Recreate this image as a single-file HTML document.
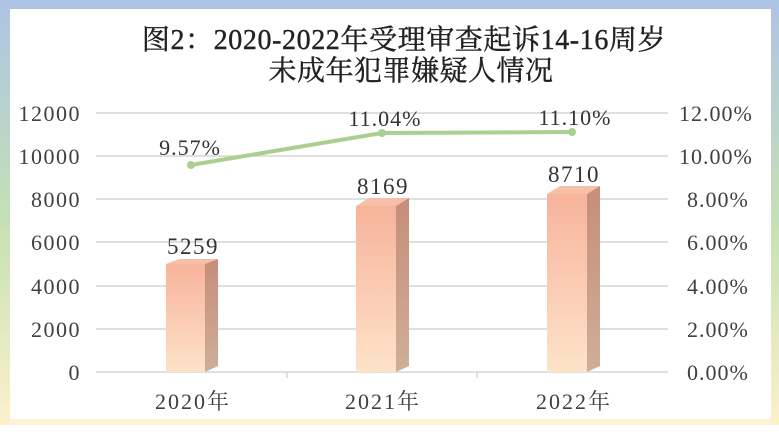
<!DOCTYPE html>
<html><head><meta charset="utf-8"><style>
body{margin:0;width:779px;height:438px;overflow:hidden;background:#fff}
</style></head><body>
<svg width="779" height="438" xmlns="http://www.w3.org/2000/svg" style="font-family:'Liberation Serif','Noto Serif CJK SC',serif">
<defs>
<linearGradient id="fr" x1="0" y1="0" x2="0" y2="1">
<stop offset="0" stop-color="#aec3e6"/><stop offset="0.5" stop-color="#c5e0b4"/><stop offset="1" stop-color="#fff2cc"/></linearGradient>
<linearGradient id="bf" x1="0" y1="0" x2="0" y2="1"><stop offset="0" stop-color="#f8b39c"/><stop offset="1" stop-color="#fde3c8"/></linearGradient>
<linearGradient id="bs" x1="0" y1="0" x2="0" y2="1"><stop offset="0" stop-color="#c58e79"/><stop offset="1" stop-color="#cfae98"/></linearGradient>
</defs>
<rect x="0" y="0" width="779" height="438" fill="url(#fr)"/>
<rect x="10" y="9" width="761" height="410" fill="#fff"/>
<rect x="10" y="419" width="761" height="6" fill="#fff2d6"/>
<rect x="0" y="425" width="779" height="13" fill="#fff"/>
<g font-size="28" text-anchor="middle" fill="#222" stroke="#222" stroke-width="0.4">
<text x="404" y="49" letter-spacing="0.6">图2：2020-2022年受理审查起诉14-16周岁</text>
<text x="411" y="80" letter-spacing="0.5">未成年犯罪嫌疑人情况</text>
</g>
<g stroke="#d6d6d6" stroke-width="1.5">
<line x1="96" x2="668" y1="113" y2="113"/><line x1="96" x2="668" y1="156" y2="156"/>
<line x1="96" x2="668" y1="199" y2="199"/><line x1="96" x2="668" y1="242" y2="242"/>
<line x1="96" x2="668" y1="286" y2="286"/><line x1="96" x2="668" y1="329" y2="329"/>
<line x1="96" x2="668" y1="372" y2="372"/><line x1="287" x2="287" y1="372" y2="378"/><line x1="477" x2="477" y1="372" y2="378"/>
</g>
<g font-size="22" fill="#404040" text-anchor="end" letter-spacing="1.5">
<text x="81" y="121">12000</text><text x="81" y="164">10000</text><text x="81" y="207">8000</text>
<text x="81" y="250">6000</text><text x="81" y="294">4000</text><text x="81" y="337">2000</text><text x="81" y="380">0</text>
</g>
<g font-size="22" fill="#404040" text-anchor="start" letter-spacing="1">
<text x="679" y="121">12.00%</text><text x="679" y="164">10.00%</text><text x="687" y="207">8.00%</text>
<text x="687" y="250">6.00%</text><text x="687" y="294">4.00%</text><text x="687" y="337">2.00%</text><text x="687" y="380">0.00%</text>
</g>
<g font-size="22" fill="#404040" text-anchor="middle" letter-spacing="2">
<text x="193" y="409">2020年</text><text x="383" y="409">2021年</text><text x="574" y="409">2022年</text>
</g>
<g>
<polygon points="166,264 179,259 218,259 205,264" fill="#f6c0a8"/>
<rect x="166" y="264" width="39" height="108" fill="url(#bf)"/>
<polygon points="205,264 218,259 218,366 205,372" fill="url(#bs)"/>
<polygon points="356,206 369,198 409,198 396,206" fill="#f6c0a8"/>
<rect x="356" y="206" width="40" height="166" fill="url(#bf)"/>
<polygon points="396,206 409,198 409,366 396,372" fill="url(#bs)"/>
<polygon points="547,194 560,186 600,186 587,194" fill="#f6c0a8"/>
<rect x="547" y="194" width="40" height="178" fill="url(#bf)"/>
<polygon points="587,194 600,186 600,366 587,372" fill="url(#bs)"/>
</g>
<g font-size="23" fill="#333" text-anchor="middle" letter-spacing="1.5">
<text x="193" y="254">5259</text><text x="383" y="194">8169</text><text x="574" y="182">8710</text>
</g>
<polyline points="191,165 382,133 572,132" fill="none" stroke="#a9d08e" stroke-width="4"/>
<g fill="#a9d08e"><circle cx="191" cy="165" r="4"/><circle cx="382" cy="133" r="4"/><circle cx="572" cy="132" r="4"/></g>
<g font-size="22" fill="#333" text-anchor="middle" letter-spacing="1">
<text x="190" y="155">9.57%</text><text x="385" y="126">11.04%</text><text x="575" y="125">11.10%</text>
</g>
</svg>
</body></html>
